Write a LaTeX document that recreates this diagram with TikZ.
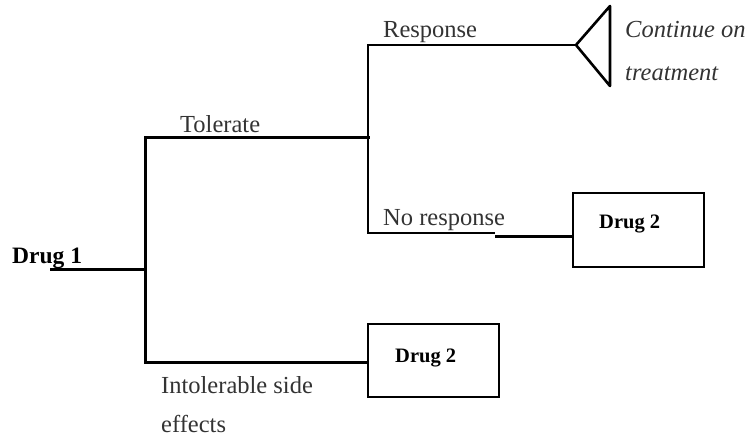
\documentclass[tikz,border=0pt]{standalone}
\usepackage{fontspec}
\setmainfont{Liberation Serif}
\begin{document}
\begin{tikzpicture}[x=1pt,y=-1pt,
  thickline/.style={line width=3pt, line cap=rect},
  thinline/.style={line width=2.2pt},
  boxnode/.style={draw, line width=2.4pt, minimum width=131pt, minimum height=73pt, inner sep=0pt},
  lbl/.style={anchor=base west, inner sep=0pt, text=black!80, font=\fontsize{24.5}{29}\selectfont},
  itlbl/.style={lbl, font=\fontsize{24.5}{29}\selectfont\itshape},
  boldlbl/.style={anchor=base west, inner sep=0pt, text=black, font=\fontsize{20.5}{24}\selectfont\bfseries}]
\useasboundingbox (0,0) rectangle (750,440);
% coordinates
\coordinate (d1s) at (50,269);
\coordinate (root) at (145,269);
\coordinate (tolL) at (145,137);
\coordinate (tolR) at (368,137);
\coordinate (intL) at (145,362);
\coordinate (respT) at (368,45);
\coordinate (noR) at (368,233);
\coordinate (noM) at (495,233);
\coordinate (noM2) at (495,236);
\coordinate (apex) at (576,45);
\coordinate (triT) at (610,6);
\coordinate (triB) at (610,86);
% boxes
\node[boxnode] (b1) at (433.5,360.5) {};
\node[boxnode, minimum height=74pt] (b2) at (638.5,230) {};
% texts
\node[boldlbl, font=\fontsize{23.5}{28}\selectfont\bfseries] (drug1) at (12,263) {Drug 1};
\node[lbl] (tol) at (180,132) {Tolerate};
\node[lbl] (resp) at (383,37) {Response};
\node[itlbl] (cont) at (625,37) {Continue on};
\node[itlbl] (treat) at (625,80) {treatment};
\node[lbl] (nores) at (383,225) {No response};
\node[boldlbl] (d2b) at (599,228) {Drug 2};
\node[boldlbl] (d2a) at (395,362) {Drug 2};
\node[lbl] (intol) at (161,393) {Intolerable side};
\node[lbl] (eff) at (161,432) {effects};
% connectors
\draw[thickline, line cap=butt] (d1s) -- (root);
\draw[thickline] (tolL) -- (intL);
\draw[thickline] (tolL) -- (tolR);
\draw[thickline, line cap=butt] (intL) -- (intL -| b1.west);
\draw[thinline, line cap=rect] (respT) -- (noR);
\draw[thinline] (respT) -- (apex);
\draw[thinline] (noR) -- (noM);
\draw[thickline, line cap=butt] (noM2) -- (noM2 -| b2.west);
\draw[line width=2.6pt, line join=round, line cap=round] (apex) -- (triT) -- (triB) -- cycle;
\end{tikzpicture}
\end{document}
